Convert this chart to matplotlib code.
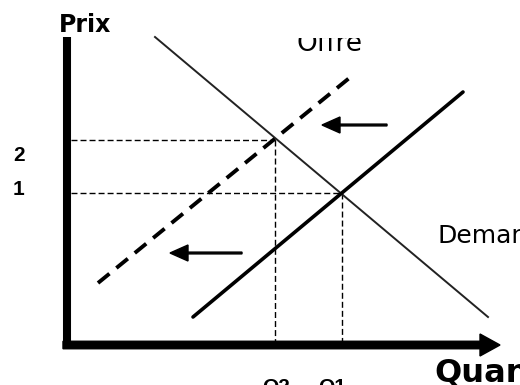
import matplotlib
matplotlib.use("Agg")
from matplotlib import pyplot as plt
from matplotlib.transforms import Bbox, TransformedBbox

# courbes (quantite, prix)
demande_q = [8.5, 41.8]
demande_p = [30.8, 2.8]
offre_q = [12.3, 39.3]
offre_p = [2.8, 25.3]
offre2_q = [2.8, 28.3]
offre2_p = [6.2, 27.0]

# equilibres : 1 = initial, 2 = apres deplacement de l'offre
eq_q = [27.2, 20.5]
eq_p = [15.2, 20.5]
eq_labels = ["1", "2"]
q_labels = ["Q1", "Q2"]

# fleches de deplacement (depart, arrivee)
fleches = [((31.7, 22.0), (25.2, 22.0)), ((17.2, 9.2), (10.0, 9.2))]

fig = plt.figure(figsize=(5.2, 3.85), dpi=100)
ax = fig.add_axes([0, 0, 1, 1])
ax.set_xlim(-7, 45)
ax.set_ylim(-4, 34.5)
ax.axis("off")

# axes du graphique
ax.plot([-0.3, -0.3], [-0.3, 30.8], color="black", lw=5.8, solid_capstyle="butt")
ax.arrow(-0.7, 0, 43.7, 0, width=0.75, head_width=2.2, head_length=2.0,
         length_includes_head=True, color="black")

# lignes de repere
for q, p in zip(eq_q, eq_p):
    ax.plot([0.1, q], [p, p], color="black", lw=1.0, ls=(0, (4.3, 2.2)))
    ax.plot([q, q], [p, 0.3], color="black", lw=1.0, ls=(0, (4.3, 2.2)))

ax.plot(demande_q, demande_p, color="#222222", lw=1.4)
ax.plot(offre_q, offre_p, color="black", lw=2.6, solid_capstyle="round")
ax.plot(offre2_q, offre2_p, color="black", lw=2.8, ls=(0, (3.8, 2.3)))

for (x0, y0), (x1, y1) in fleches:
    ax.arrow(x0, y0, x1 - x0, y1 - y0, width=0.18, head_width=1.6, head_length=1.8,
             length_includes_head=True, color="black")

# textes
ax.text(-1.1, 31.3, "Prix", fontsize=17, fontweight="bold", ha="left", va="baseline")
ax.text(-5.7, 18.4, eq_labels[1], fontsize=15, fontweight="bold",
        family="Liberation Sans", va="baseline")
ax.text(-5.7, 15.0, eq_labels[0], fontsize=15, fontweight="bold",
        family="Liberation Sans", va="baseline")
ax.text(20.6, -4.8, q_labels[1], fontsize=15, fontweight="bold",
        family="Liberation Sans", ha="center", va="baseline")
ax.text(26.2, -4.8, q_labels[0], fontsize=15, fontweight="bold",
        family="Liberation Sans", ha="center", va="baseline")
t = ax.text(22.7, 29.4, "Offre", fontsize=19, ha="left", va="baseline")
t.set_clip_box(TransformedBbox(Bbox.from_extents(-7, -4, 45, 30.7), ax.transData))
t.set_clip_on(True)
ax.text(36.8, 10.2, "Demande", fontsize=18, ha="left", va="baseline")
ax.text(36.4, -3.7, "Quantité", fontsize=23, fontweight="bold", ha="left", va="baseline")

fig.savefig("out.png", dpi=100)
